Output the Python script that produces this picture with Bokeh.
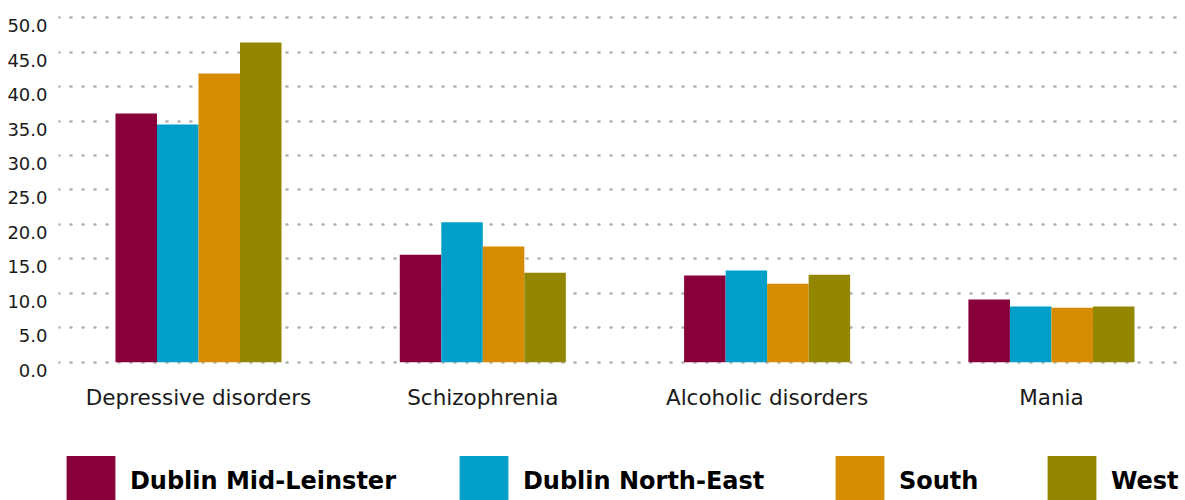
from bokeh.plotting import figure
from bokeh.models import (ColumnDataSource, Range1d, FixedTicker, NumeralTickFormatter,
                          Legend, LegendItem, LinearAxis)
from bokeh.embed import file_html
from bokeh.resources import INLINE

categories = ["Depressive disorders", "Schizophrenia", "Alcoholic disorders", "Mania"]
series_names = ["Dublin Mid-Leinster", "Dublin North-East", "South", "West"]
dublin_mid_leinster = [36.1, 15.6, 12.6, 9.1]
dublin_north_east = [34.5, 20.3, 13.3, 8.1]
south = [41.9, 16.8, 11.4, 7.9]
west = [46.4, 13.0, 12.7, 8.1]
y_ticks = [0, 5, 10, 15, 20, 25, 30, 35, 40, 45, 50]

colors = ["#870039", "#009FCA", "#D68C00", "#948700"]
values = [dublin_mid_leinster, dublin_north_east, south, west]

FONT = "DejaVu Sans"
bar_w = 0.146
offsets = [-1.5 * bar_w, -0.5 * bar_w, 0.5 * bar_w, 1.5 * bar_w]

Y0, Y1 = -20.08, 50.77
LBL_SHIFT = 1.16  # tick labels sit just under their grid lines

p = figure(width=1182, height=500, output_backend="svg", toolbar_location=None,
           x_range=Range1d(-0.4924, 3.461), y_range=Range1d(Y0, Y1),
           min_border_left=58, min_border_right=0, min_border_top=12, min_border_bottom=0)
p.outline_line_color = None
p.background_fill_color = "white"
p.extra_y_ranges = {"lbl": Range1d(Y0 + LBL_SHIFT, Y1 + LBL_SHIFT)}

renderers = []
for name, vals, col, off in zip(series_names, values, colors, offsets):
    src = ColumnDataSource(dict(x=[i + off for i in range(len(categories))], top=vals))
    r = p.vbar(x="x", top="top", width=bar_w, bottom=0, source=src,
               fill_color=col, line_color=None)
    renderers.append(r)

# x axis drawn at y = 0 inside the frame
xa = p.xaxis[0]
xa.fixed_location = 0
xa.ticker = FixedTicker(ticks=list(range(len(categories))))
xa.major_label_overrides = {i: c for i, c in enumerate(categories)}
xa.axis_line_color = None
xa.major_tick_line_color = None
xa.minor_tick_line_color = None
xa.major_label_standoff = 17
xa.major_label_text_font = FONT
xa.major_label_text_font_size = "21.5px"
xa.major_label_text_color = "#1a1a1a"

# y axis labels
p.yaxis[0].visible = False
ya = LinearAxis(y_range_name="lbl", ticker=FixedTicker(ticks=y_ticks),
                formatter=NumeralTickFormatter(format="0.0"))
ya.axis_line_color = None
ya.major_tick_line_color = None
ya.minor_tick_line_color = None
ya.major_label_standoff = 5
ya.major_label_text_font = FONT
ya.major_label_text_font_size = "18px"
ya.major_label_text_color = "#1a1a1a"
p.add_layout(ya, "left")

p.xgrid.grid_line_color = None
p.ygrid.ticker = FixedTicker(ticks=y_ticks)
p.ygrid.grid_line_color = "#b0b0b0"
p.ygrid.grid_line_width = 2.5
p.ygrid.grid_line_dash = "1 11"
p.ygrid.grid_line_cap = "round"

legend_x = [1.9, 394.9, 770.9, 982.9]
for name, r, lx in zip(series_names, renderers, legend_x):
    lg = Legend(items=[LegendItem(label=name, renderers=[r])], location=(lx, -13.5),
                glyph_width=61, glyph_height=65, padding=0, margin=0, spacing=0,
                label_standoff=9, border_line_color=None, background_fill_alpha=0,
                label_text_font=FONT, label_text_font_size="24px",
                label_text_font_style="bold", label_text_color="#000000")
    p.add_layout(lg, "center")

open("out.html", "w").write(file_html(p, INLINE))
